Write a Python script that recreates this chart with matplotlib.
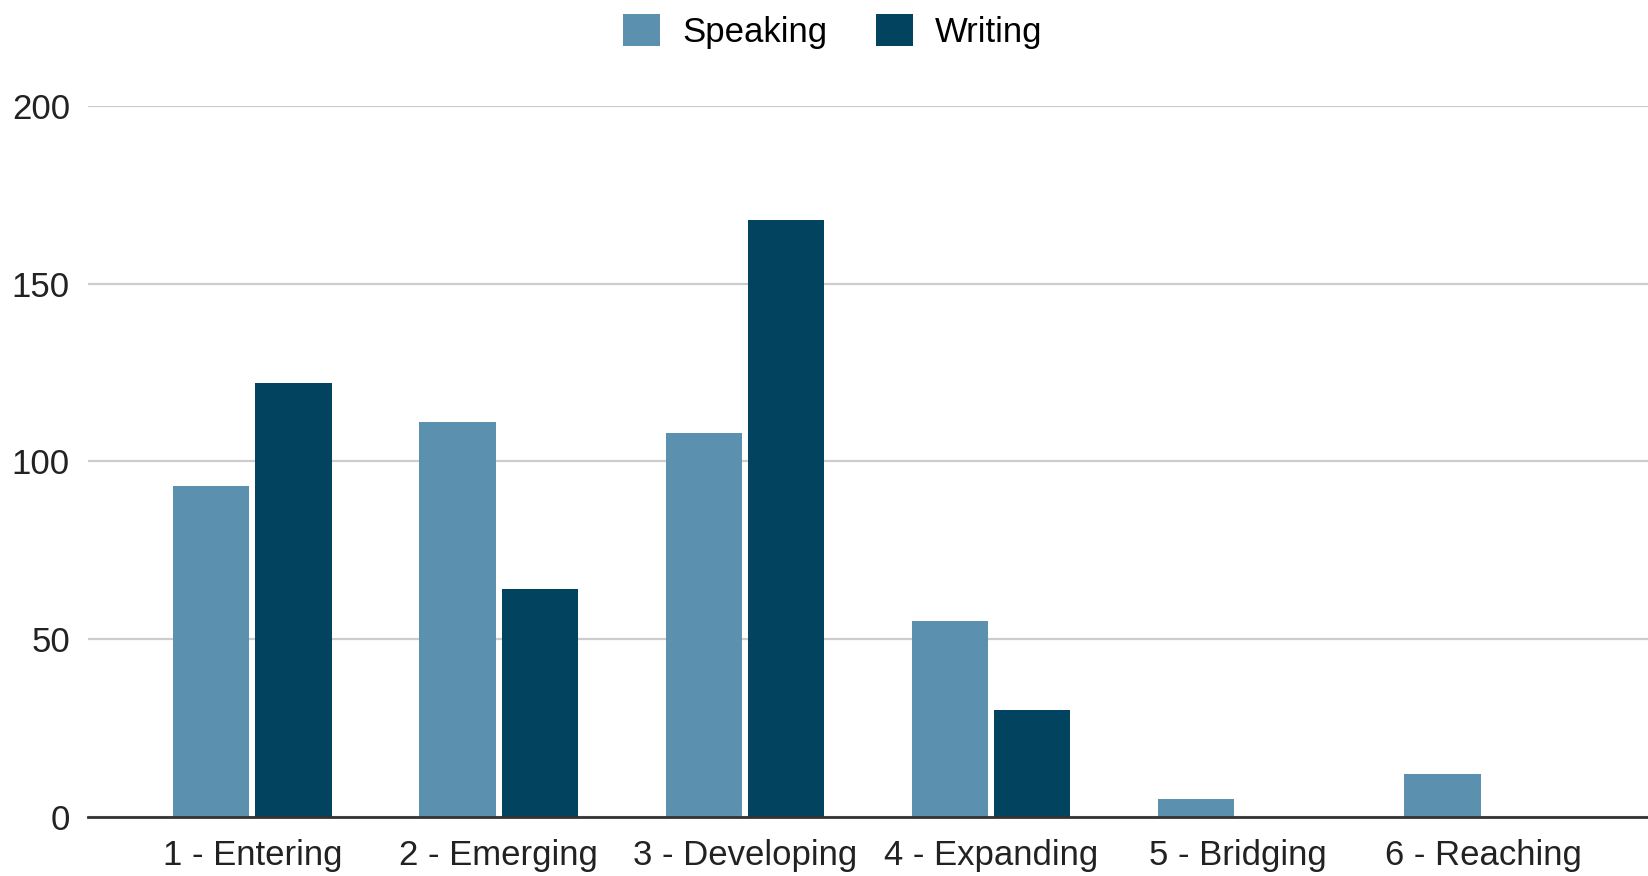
import matplotlib.pyplot as plt
import numpy as np

plt.rcParams['font.family'] = ['Liberation Sans', 'DejaVu Sans']

levels = ["1 - Entering", "2 - Emerging", "3 - Developing", "4 - Expanding", "5 - Bridging", "6 - Reaching"]
speaking = [93, 111, 108, 55, 5, 12]
writing = [122, 64, 168, 30, 0, 0]

c_speak = "#5b91af"
c_write = "#02445f"

fig = plt.figure(figsize=(16.48, 8.76), dpi=100)
ax = fig.add_axes([0.0534, 0.0674, 0.9466, 0.8116])

x = np.arange(len(levels))
w = 0.31
ax.bar(x - 0.167, speaking, w, color=c_speak, label="Speaking", zorder=3)
ax.bar(x + 0.167, writing, w, color=c_write, label="Writing", zorder=3)

ax.set_xlim(-0.667, len(levels) - 0.333)
ax.set_ylim(0, 200)
ax.set_yticks([0, 50, 100, 150, 200])
ax.set_xticks(x)
ax.set_xticklabels(levels)
ax.tick_params(axis='both', length=0, labelsize=25, colors="#222222")
ax.tick_params(axis='y', pad=13)
ax.tick_params(axis='x', pad=16)

ax.grid(axis='y', color="#cccccc", linewidth=1.6, zorder=0)
for s in ['top', 'right', 'left']:
    ax.spines[s].set_visible(False)
ax.spines['bottom'].set_color("#333333")
ax.spines['bottom'].set_linewidth(2)
ax.spines['bottom'].set_zorder(4)

fig.legend(loc='center', bbox_to_anchor=(0.5055, 0.964), ncol=2, frameon=False,
           fontsize=25, handlelength=1.05, handleheight=1.05, columnspacing=1.4,
           handletextpad=0.65)

fig.savefig("out.png", dpi=100)
